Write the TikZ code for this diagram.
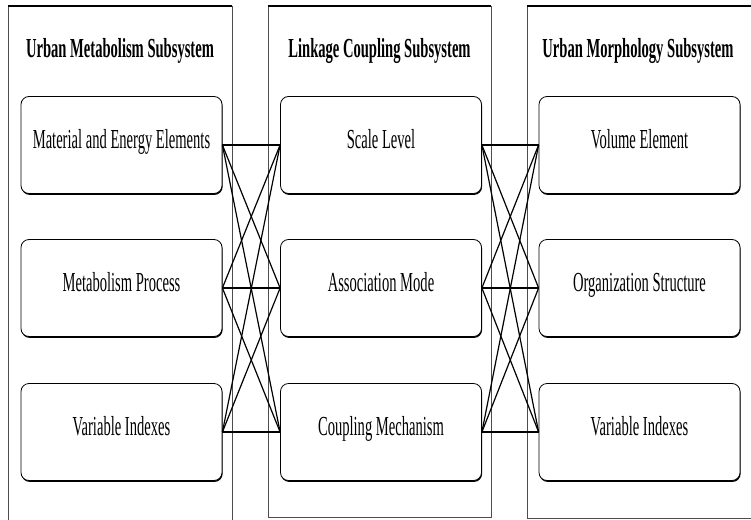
\documentclass[tikz,border=0pt]{standalone}
\usepackage{fontspec}
\setmainfont{Liberation Serif}
\newfontfamily\condfont[FakeStretch=0.53]{Liberation Serif}
\usetikzlibrary{shadows}
\tikzset{every node/.style={font=\condfont\fontsize{27.5}{30}\selectfont}}
\colorlet{framecol}{black!70!white}
\colorlet{boxcol}{black}
\colorlet{linkcol}{black}
\tikzset{
  titlenode/.style={font=\condfont\bfseries\fontsize{27.5}{30}\selectfont},
  itembox/.style={draw=boxcol, fill=white, rounded corners=8pt, line width=0.8pt,
    minimum width=201pt, minimum height=97pt, inner sep=0pt,
    text height=18pt, text depth=12pt,
    drop shadow={shadow xshift=0.6pt, shadow yshift=-1.4pt, opacity=1, fill=black}},
  link/.style={linkcol, line width=1.2pt},
  hlink/.style={linkcol, line width=2pt},
}

\begin{document}
\begin{tikzpicture}[x=1pt, y=-1pt]

  \clip (0,0) rectangle (751,519);

  % Subsystem frames (left x, right x, bottom y).
  \foreach \xa/\xb/\yb in {8/232/530, 268/491/517, 527/752/518} {
    \draw[framecol, line width=0.8pt] (\xa,6) rectangle (\xb,\yb);
    \draw[black, line width=1.6pt] (\xa,6) -- (\xb,6);
  }

  % Titles.
  \node[titlenode] (metatitle) at (120,51)   {Urban Metabolism Subsystem};
  \node[titlenode] (linktitle) at (379.5,51) {Linkage Coupling Subsystem};
  \node[titlenode] (morphtitle) at (638,51)  {Urban Morphology Subsystem};

  % Urban metabolism elements.
  \node[itembox] (mat)  at (121.5,145) {Material and Energy Elements};
  \node[itembox] (proc) at (121.5,288) {Metabolism Process};
  \node[itembox] (varl) at (121.5,432) {Variable Indexes};

  % Linkage coupling elements.
  \node[itembox] (scale) at (381,145) {Scale Level};
  \node[itembox] (assoc) at (381,288) {Association Mode};
  \node[itembox] (mech)  at (381,432) {Coupling Mechanism};

  % Urban morphology elements.
  \node[itembox] (vol) at (639.5,145) {Volume Element};
  \node[itembox] (org) at (639.5,288) {Organization Structure};
  \node[itembox] (varr) at (639.5,432) {Variable Indexes};

  % Links: every element to every element of the next subsystem.
  \foreach \a in {mat,proc,varl} {
    \foreach \b in {scale,assoc,mech} {
      \draw[link] (\a.east) -- (\b.west);
    }
  }
  \foreach \a in {scale,assoc,mech} {
    \foreach \b in {vol,org,varr} {
      \draw[link] (\a.east) -- (\b.west);
    }
  }

  % Straight links (heavier).
  \draw[hlink] (mat.east) -- (scale.west);
  \draw[hlink] (proc.east) -- (assoc.west);
  \draw[hlink] (varl.east) -- (mech.west);
  \draw[hlink] (scale.east) -- (vol.west);
  \draw[hlink] (assoc.east) -- (org.west);
  \draw[hlink] (mech.east) -- (varr.west);

\end{tikzpicture}
\end{document}
